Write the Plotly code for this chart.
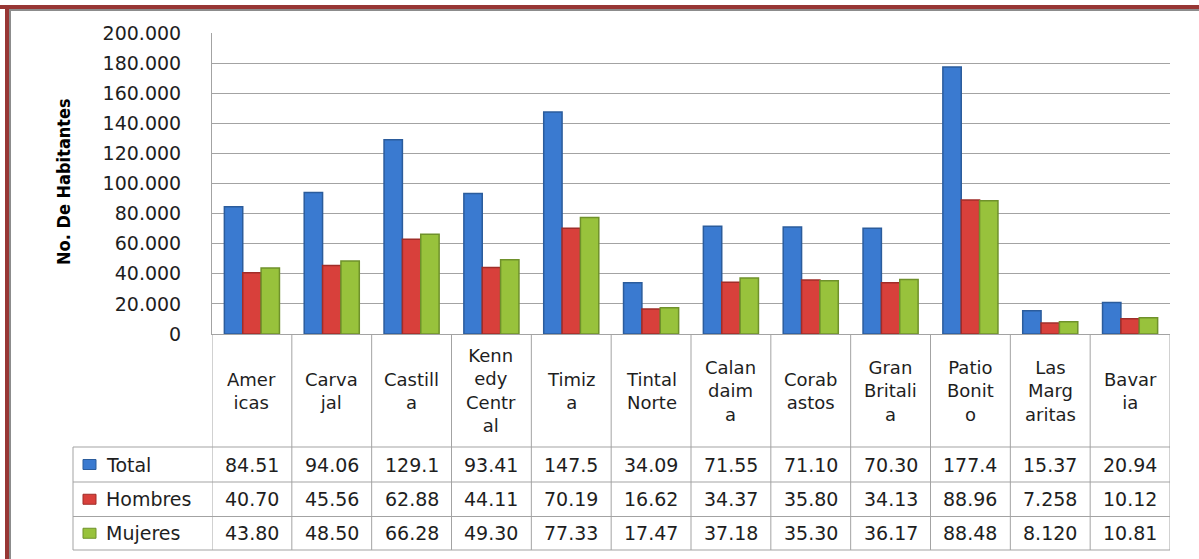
import plotly.graph_objects as go

# ---------------- data ----------------
categories = ["Americas", "Carvajal", "Castilla", "Kennedy Central", "Timiza", "Tintal Norte",
              "Calandaima", "Corabastos", "Gran Britalia", "Patio Bonito", "Las Margaritas", "Bavaria"]
category_labels = ["Amer<br>icas", "Carva<br>jal", "Castill<br>a", "Kenn<br>edy<br>Centr<br>al",
                   "Timiz<br>a", "Tintal<br>Norte", "Calan<br>daim<br>a", "Corab<br>astos",
                   "Gran<br>Britali<br>a", "Patio<br>Bonit<br>o", "Las<br>Marg<br>aritas", "Bavar<br>ia"]
total = [84510, 94060, 129100, 93410, 147500, 34090, 71550, 71100, 70300, 177400, 15370, 20940]
hombres = [40700, 45560, 62880, 44110, 70190, 16620, 34370, 35800, 34130, 88960, 7258, 10120]
mujeres = [43800, 48500, 66280, 49300, 77330, 17470, 37180, 35300, 36170, 88480, 8120, 10810]
series_names = ["Total", "Hombres", "Mujeres"]
y_ticks = list(range(0, 200001, 20000))
y_title = "No. De Habitantes"

# ---------------- style ----------------
W, H = 1199, 559
L, R, T, B = 212, 29, 33, 225
fill_colors = ["#3A7AD0", "#D8403B", "#98C23C"]
edge_colors = ["#2B5C9C", "#A02D29", "#6F912B"]
grid_col = "#A3A3A3"
txt_col = "#1E1E1E"
FONT = "DejaVu Sans"


def px(x):
    return (x - L) / (W - L - R)


def py(y):
    return (H - B - y) / (H - T - B)


fig = go.Figure()
series = [total, hombres, mujeres]
for name, vals, fc, ec in zip(series_names, series, fill_colors, edge_colors):
    fig.add_trace(go.Bar(x=categories, y=vals, name=name,
                         marker=dict(color=fc, line=dict(color=ec, width=1.5)),
                         hoverinfo="skip"))

shapes = []
annotations = []

# table geometry (pixels)
row_lines = [447, 482, 516.5, 550]
cat_top, cat_bot = 334, 447
legend_left = 73

for yl in row_lines:
    shapes.append(dict(type="line", xref="paper", yref="paper",
                       x0=px(legend_left), x1=1, y0=py(yl), y1=py(yl),
                       line=dict(color=grid_col, width=1)))
shapes.append(dict(type="line", xref="paper", yref="paper",
                   x0=px(legend_left), x1=px(legend_left), y0=py(447), y1=py(550),
                   line=dict(color=grid_col, width=1)))
for i in range(len(categories) + 1):
    shapes.append(dict(type="line", xref="x", yref="paper",
                       x0=i - 0.5, x1=i - 0.5, y0=py(cat_top), y1=py(550),
                       line=dict(color=grid_col, width=1)))

# category labels
for cat, lab in zip(categories, category_labels):
    annotations.append(dict(x=cat, xref="x", y=py((cat_top + cat_bot) / 2), yref="paper",
                            text=lab, showarrow=False, xanchor="center", yanchor="middle",
                            font=dict(family=FONT, size=18, color=txt_col)))

# value rows
row_centers = [(row_lines[k] + row_lines[k + 1]) / 2 for k in range(3)]
for k, (name, vals) in enumerate(zip(series_names, series)):
    yc = row_centers[k]
    for cat, v in zip(categories, vals):
        annotations.append(dict(x=cat, xref="x", y=py(yc), yref="paper",
                                text=f"{v / 1000:#.4g}", showarrow=False,
                                xanchor="center", yanchor="middle",
                                font=dict(family=FONT, size=19, color=txt_col)))
    # legend key
    shapes.append(dict(type="rect", xref="paper", yref="paper",
                       x0=px(83), x1=px(96), y0=py(yc - 5), y1=py(yc + 5),
                       fillcolor=fill_colors[k], line=dict(color=edge_colors[k], width=1)))
    annotations.append(dict(x=px(104), xref="paper", y=py(yc), yref="paper",
                            text=name, showarrow=False, xanchor="left", yanchor="middle",
                            font=dict(family=FONT, size=19, color=txt_col)))

# y axis title
annotations.append(dict(x=px(63), xref="paper", y=py(182), yref="paper", text=f"<b>{y_title}</b>",
                        textangle=-90, showarrow=False, xanchor="center", yanchor="middle",
                        font=dict(family="DejaVu Sans Condensed, Liberation Sans Narrow, DejaVu Sans",
                                  size=18, color="#000000")))

# outer frame (dark red with grey inner line)
frame_red = "#973634"
shapes.append(dict(type="rect", xref="paper", yref="paper",
                   x0=px(0), x1=px(W), y0=py(5), y1=py(9),
                   fillcolor=frame_red, line=dict(width=0), layer="above"))
shapes.append(dict(type="rect", xref="paper", yref="paper",
                   x0=px(9), x1=px(W), y0=py(9), y1=py(11),
                   fillcolor="#8C8C8C", line=dict(width=0), layer="above"))
shapes.append(dict(type="rect", xref="paper", yref="paper",
                   x0=px(5), x1=px(9), y0=py(5), y1=py(H),
                   fillcolor=frame_red, line=dict(width=0), layer="above"))
shapes.append(dict(type="rect", xref="paper", yref="paper",
                   x0=px(9), x1=px(11), y0=py(9), y1=py(H),
                   fillcolor="#8C8C8C", line=dict(width=0), layer="above"))

fig.update_layout(
    width=W, height=H,
    margin=dict(l=L, r=R, t=T, b=B, autoexpand=False),
    paper_bgcolor="white", plot_bgcolor="white",
    barmode="group", bargap=0.31, bargroupgap=0,
    showlegend=False,
    separators=",.",
    shapes=shapes, annotations=annotations,
    xaxis=dict(type="category", range=[-0.5, len(categories) - 0.5], showticklabels=False,
               showgrid=False, showline=True, linecolor=grid_col, linewidth=1, ticks="",
               zeroline=False, fixedrange=True),
    yaxis=dict(range=[0, 200000], tickvals=y_ticks, tickformat=",d", showgrid=True,
               gridcolor=grid_col, gridwidth=1, showline=True, linecolor=grid_col, linewidth=1,
               ticks="", ticklabelstandoff=26, zeroline=False, fixedrange=True,
               tickfont=dict(family=FONT, size=19, color=txt_col)),
)

fig.write_html("out.html", config={"displayModeBar": False},
               post_script="document.body.style.margin='0px';")
